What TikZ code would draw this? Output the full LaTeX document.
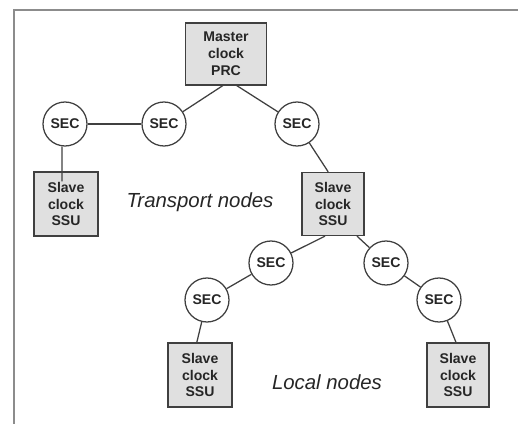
\documentclass[tikz,border=0pt]{standalone}
\usepackage{fontspec}
\setmainfont{Liberation Sans}
\begin{document}
\begin{tikzpicture}[
    font=\fontsize{10}{12}\selectfont\bfseries,
    clock box/.style={
        draw=black!75, fill=black!12, line width=0.9pt,
        minimum width=1.6cm, minimum height=1.6cm,
        align=center, inner sep=2pt, text=black!85
    },
    sec node/.style={
        circle, draw=black!75, fill=white, line width=0.9pt,
        minimum size=1.1cm, inner sep=0pt, text=black!85
    },
    link/.style={draw=black!75, line width=0.9pt},
    area label/.style={font=\fontsize{14.5}{17}\selectfont\itshape, text=black!85}
]
    % page frame, only top and left edges show
    \useasboundingbox (0,0) rectangle (12.95,-10.6);
    \draw[black!45, line width=1.1pt] (0.35,-10.6) -- (0.35,-0.25) -- (12.95,-0.25);

    % transport level
    \node[clock box, minimum width=2.025cm, minimum height=1.55cm] (master) at (5.65,-1.35)
        {Master\\clock\\PRC};
    \node[sec node] (secA) at (1.625,-3.1) {SEC};
    \node[sec node] (secB) at (4.1,-3.1) {SEC};
    \node[sec node] (secC) at (7.425,-3.1) {SEC};
    \node[clock box] (ssuA) at (1.65,-5.1) {Slave\\clock\\SSU};
    \node[clock box, minimum width=1.55cm, minimum height=1.575cm] (ssuB) at (8.325,-5.1)
        {Slave\\clock\\SSU};

    % local level
    \node[sec node] (secD) at (6.775,-6.575) {SEC};
    \node[sec node] (secE) at (9.65,-6.575) {SEC};
    \node[sec node] (secF) at (5.175,-7.5) {SEC};
    \node[sec node] (secG) at (10.975,-7.5) {SEC};
    \node[clock box] (ssuC) at (5.0,-9.375) {Slave\\clock\\SSU};
    \node[clock box, minimum width=1.55cm] (ssuD) at (11.45,-9.375) {Slave\\clock\\SSU};

    \node[area label] (transport) at (5.0,-5.05) {Transport nodes};
    \node[area label] (local) at (8.175,-9.55) {Local nodes};

    % links
    \draw[link] ([xshift=-0.08cm]master.south) -- (secB);
    \draw[link] ([xshift=0.27cm]master.south) -- (secC);
    \draw[link] (secA) -- (secB);
    \draw[link] ([xshift=-0.075cm]secA.south) -- ([xshift=-0.1cm,yshift=-0.25cm]ssuA.north);
    \draw[link] (secC) -- ([xshift=-0.12cm]ssuB.north);
    \draw[link] ([xshift=-0.2cm]ssuB.south) -- (secD);
    \draw[link] ([xshift=0.6cm]ssuB.south) -- (secE);
    \draw[link] (secD) -- (secF);
    \draw[link] (secE) -- (secG);
    \draw[link] (secF) -- ([xshift=-0.08cm]ssuC.north);
    \draw[link] (secG) -- ([xshift=-0.05cm]ssuD.north);
\end{tikzpicture}
\end{document}
